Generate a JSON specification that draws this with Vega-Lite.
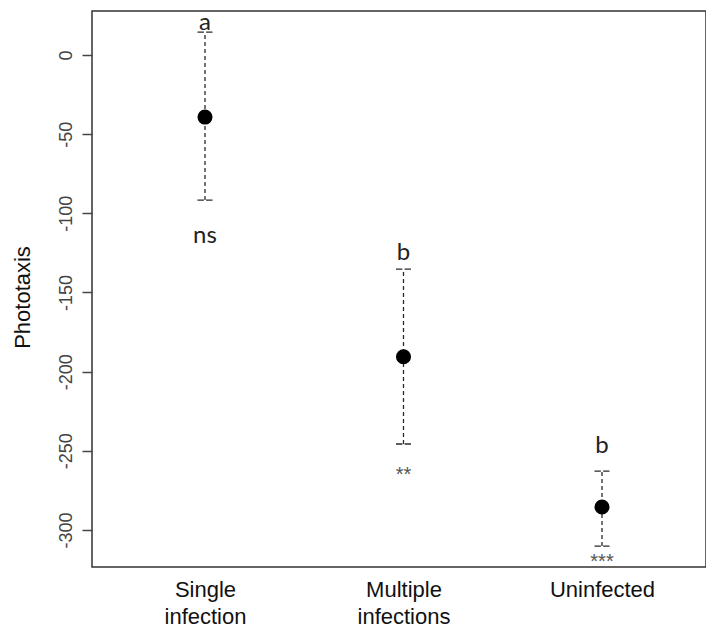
{
  "$schema": "https://vega.github.io/schema/vega-lite/v6.json",
  "width": 614,
  "height": 556,
  "autosize": {"type": "none"},
  "padding": {"left": 92, "top": 11, "right": 0, "bottom": 68},
  "background": "white",
  "config": {
    "view": {"stroke": "#333", "strokeWidth": 1.5},
    "font": "Liberation Sans"
  },
  "data": {
    "values": [
      {"group": "Single infection", "mean": -39.2, "lower": -91.6, "upper": 14.5, "letter": "a", "letter_y": 15.5, "sig": "ns", "sig_y": -119, "sig_font": "letter"},
      {"group": "Multiple infections", "mean": -190.6, "lower": -245.7, "upper": -135.2, "letter": "b", "letter_y": -129.5, "sig": "**", "sig_y": -269, "sig_font": "star"},
      {"group": "Uninfected", "mean": -285.5, "lower": -310.2, "upper": -262.8, "letter": "b", "letter_y": -251.4, "sig": "***", "sig_y": -324, "sig_font": "star"}
    ]
  },
  "encoding": {
    "x": {
      "field": "group", "type": "nominal", "sort": null,
      "scale": {"type": "point", "range": [113, 510], "padding": 0},
      "axis": {
        "title": null, "ticks": false, "domain": false, "labelAngle": 0,
        "labelFontSize": 22, "labelColor": "#111", "labelPadding": 12,
        "labelBaseline": "top", "labelLineHeight": 27,
        "labelExpr": "split(datum.label, ' ')"
      }
    }
  },
  "layer": [
    {
      "mark": {"type": "rule", "strokeDash": [4, 3], "color": "#2a2a2a", "strokeWidth": 1.3},
      "encoding": {
        "y": {
          "field": "lower", "type": "quantitative",
          "scale": {"domain": [-323.4, 27.8], "nice": false, "zero": false},
          "axis": {
            "title": "Phototaxis", "values": [-300, -250, -200, -150, -100, -50, 0],
            "labelExpr": "toString(datum.value)",
            "domain": false, "grid": false, "tickSize": 10, "tickColor": "#444", "tickWidth": 1.5,
            "labelAngle": 270, "labelAlign": "center", "labelBaseline": "alphabetic",
            "labelPadding": 11, "labelFontSize": 18, "labelColor": "#444",
            "titleFontSize": 22, "titleFontWeight": "normal", "titleColor": "#111",
            "titleAngle": 270, "titleBaseline": "alphabetic", "titleAlign": "center",
            "titleX": -63, "titleY": 286
          }
        },
        "y2": {"field": "upper"}
      }
    },
    {
      "mark": {"type": "point", "shape": "M-1,0H-0.15M0.15,0H1", "filled": false, "stroke": "#2a2a2a", "strokeWidth": 1.3, "size": 225, "opacity": 1},
      "encoding": {"y": {"field": "upper", "type": "quantitative"}}
    },
    {
      "mark": {"type": "point", "shape": "M-1,0H-0.15M0.15,0H1", "filled": false, "stroke": "#2a2a2a", "strokeWidth": 1.3, "size": 225, "opacity": 1},
      "encoding": {"y": {"field": "lower", "type": "quantitative"}}
    },
    {
      "mark": {"type": "circle", "color": "black", "size": 227, "opacity": 1},
      "encoding": {"y": {"field": "mean", "type": "quantitative"}}
    },
    {
      "mark": {"type": "text", "font": "Lato", "fontSize": 24, "color": "#222", "baseline": "alphabetic", "align": "center"},
      "encoding": {
        "y": {"field": "letter_y", "type": "quantitative"},
        "text": {"field": "letter"}
      }
    },
    {
      "transform": [{"filter": "datum.sig_font == 'letter'"}],
      "mark": {"type": "text", "font": "Lato", "fontSize": 24, "color": "#222", "baseline": "alphabetic", "align": "center"},
      "encoding": {
        "y": {"field": "sig_y", "type": "quantitative"},
        "text": {"field": "sig"}
      }
    },
    {
      "transform": [{"filter": "datum.sig_font == 'star'"}],
      "mark": {"type": "text", "font": "Liberation Sans", "fontSize": 20, "color": "#555", "baseline": "alphabetic", "align": "center"},
      "encoding": {
        "y": {"field": "sig_y", "type": "quantitative"},
        "text": {"field": "sig"}
      }
    }
  ]
}
